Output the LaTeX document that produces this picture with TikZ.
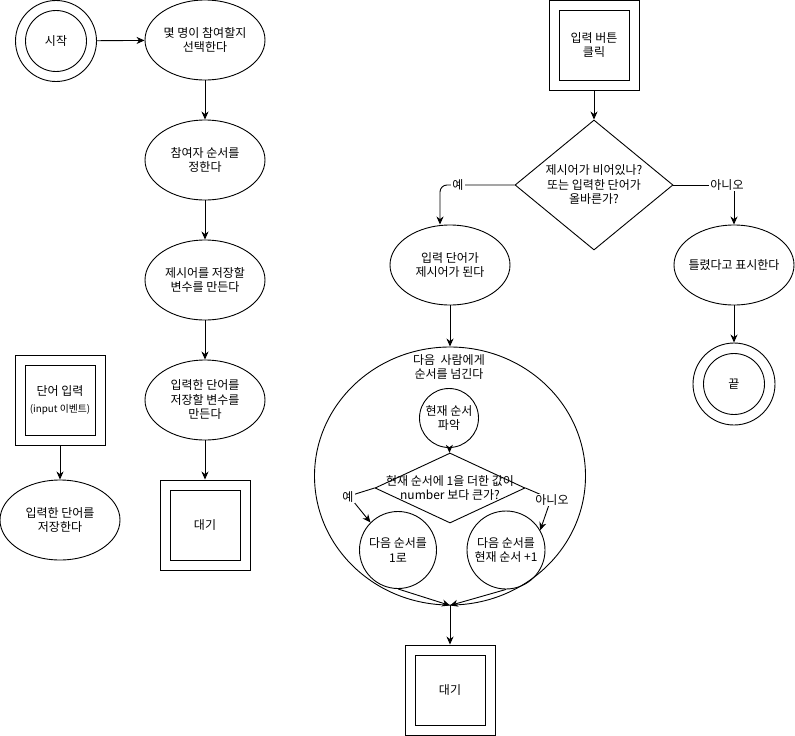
\documentclass[tikz,border=0pt]{standalone}
\usepackage{fontspec}
\setmainfont{Noto Sans CJK KR}
\usetikzlibrary{shapes.geometric,arrows.meta}
\begin{document}
\begin{tikzpicture}[x=1pt,y=-1pt,line width=0.9pt,
  every node/.style={font=\fontsize{12}{14.5}\selectfont},
  txt/.style={align=center,inner sep=0pt},
  lbl/.style={label={[txt]center:{#1}}},
  ell/.style={ellipse,draw,minimum width=120,minimum height=80,inner sep=0pt},
  circ/.style={circle,draw,inner sep=0pt},
  box/.style={rectangle,draw,inner sep=0pt},
  dia/.style={diamond,draw,inner sep=0pt},
  arr/.style={-{Stealth[length=8pt,width=7pt,inset=2.5pt]}},
  tag/.style={fill=white,inner sep=1pt}]
\useasboundingbox (0,0) rectangle (795,736);

% ---- main setup column ----
\node[circ,minimum size=81] (start) at (56,41) {};
\node[circ,minimum size=61] (starti) at (start) {시작};
\node[ell,lbl={몇 명이 참여할지\\선택한다}] (e1) at (205,40) {};
\node[ell,lbl={참여자 순서를\\정한다}] (e2) at (205,160) {};
\node[ell,lbl={제시어를 저장할\\변수를 만든다}] (e3) at (205,280) {};
\node[ell,lbl={입력한 단어를\\저장할 변수를\\만든다}] (e4) at (205,400) {};
\node[box,minimum size=90] (wait1) at (205,525) {};
\node[box,minimum size=70] (wait1i) at (wait1) {대기};

\draw[arr] (start) -- (e1);
\draw[arr] (e1) -- (e2);
\draw[arr] (e2) -- (e3);
\draw[arr] (e3) -- (e4);
\draw[arr] (e4) -- (wait1);

% ---- input event ----
\node[box,minimum size=90] (inbox) at (60,400) {};
\node[box,minimum size=70,lbl={단어 입력\\[2pt]{\fontsize{9.8}{11}\selectfont (input 이벤트)}}] (inboxi) at (inbox) {};
\node[ell,lbl={입력한 단어를\\저장한다}] (e5) at (60,520) {};
\draw[arr] (inbox) -- (e5);

% ---- button click ----
\node[box,minimum size=90] (btn) at (594,45) {};
\node[box,minimum size=70,lbl={입력 버튼\\클릭}] (btni) at (btn) {};
\node[dia,minimum width=158,minimum height=130,
      lbl={제시어가 비어있나?\\또는 입력한 단어가\\올바른가?}] (d1) at (594,185) {};
\draw[arr] (btn) -- (d1);

\node[ell,lbl={입력 단어가\\제시어가 된다}] (give) at (450,265) {};
\node[ell,lbl={틀렸다고 표시한다}] (wrong) at (734,265) {};
\node[circ,minimum size=82] (endo) at (734,384) {};
\node[circ,minimum size=61] (endi) at (endo) {끝};

\coordinate (yc1) at (440,185);
\coordinate (nc1) at (734,185);
\draw[arr,rounded corners=7] (d1.west) -- (yc1) -- ([xshift=-10pt]give.north);
\draw[arr] (d1.east) -- (nc1) -- (wrong.north);
\node[tag] (yes1) at (458,185) {예};
\node[tag] (no1) at (727,185) {아니오};
\draw[arr] (wrong) -- (endo);

% ---- pass turn (container) ----
\node[ellipse,draw,minimum width=271,minimum height=258,inner sep=0pt] (big) at (450,476) {};
\node[txt] (bigt) at (449,367) {다음\ \ 사람에게\\순서를 넘긴다};
\draw[arr] (give) -- (big);

\node[circ,minimum size=59,lbl={현재 순서\\파악}] (cur) at (449,418) {};
\node[dia,minimum width=150,minimum height=70,
      lbl={현재 순서에 1을 더한 값이\\number 보다 큰가?}] (d2) at (450,488) {};
\node[circ,minimum size=77,lbl={다음 순서를\\1로}] (c1) at (398,550) {};
\node[circ,minimum size=78,lbl={다음 순서를\\현재 순서 +1}] (c2) at (506,550) {};
\draw[arr] (cur) -- (d2);

\coordinate (yc2) at (349,496);
\coordinate (nc2) at (551,499);
\draw[arr] (d2.west) -- (yc2) -- (c1.135);
\draw[arr] (d2.east) -- (nc2) -- (c2.30);
\node[tag] (yes2) at (348,497) {예};
\node[tag] (no2) at (552,500) {아니오};

\draw[arr] (c1.south) -- (big.south);
\draw[arr] (c2.south) -- (big.south);

\node[box,minimum size=90] (wait2) at (450,690) {};
\node[box,minimum size=70] (wait2i) at (wait2) {대기};
\draw[arr] (big.south) -- (wait2);
\end{tikzpicture}
\end{document}
